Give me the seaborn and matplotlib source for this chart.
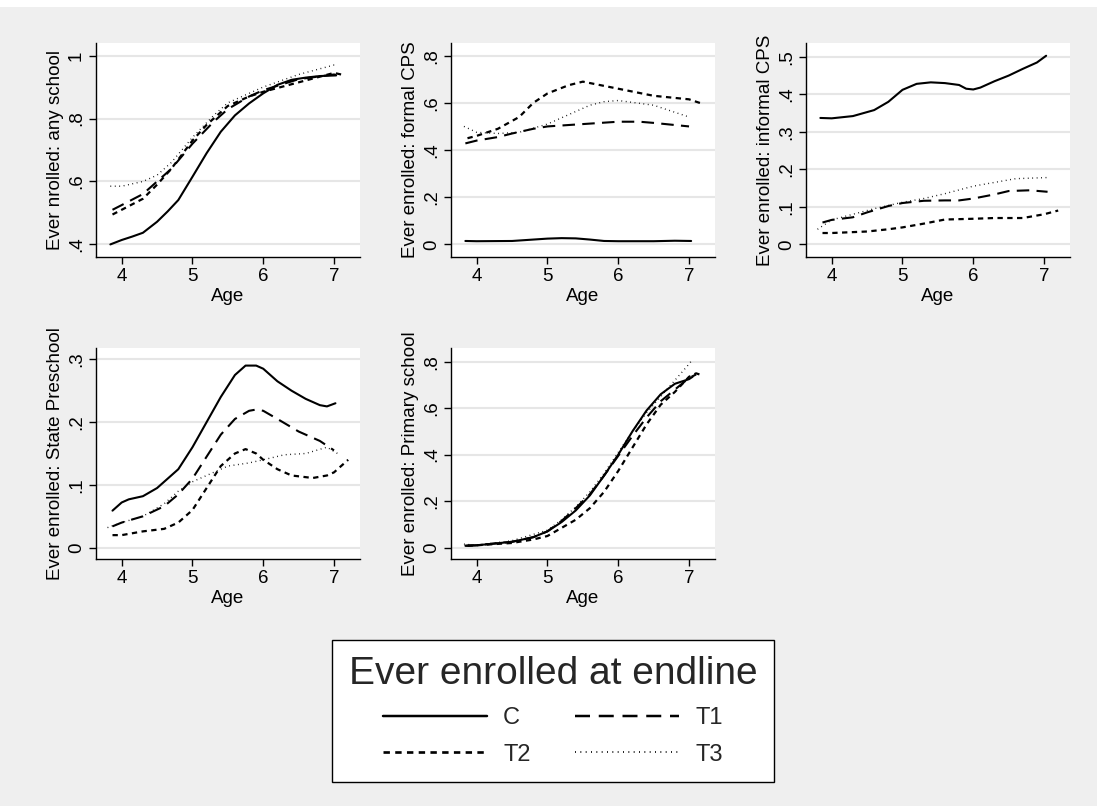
import matplotlib
matplotlib.use("Agg")
import matplotlib.pyplot as plt
from matplotlib.lines import Line2D
from matplotlib.patches import Rectangle
import seaborn as sns
import pandas as pd

GROUPS = ["C", "T1", "T2", "T3"]

# age / value pairs, one dict per outcome
any_school = {
    "C": ([3.84, 4.0, 4.15, 4.3, 4.5, 4.65, 4.8, 5.0, 5.2, 5.4, 5.6, 5.8, 6.0, 6.2, 6.4, 6.6, 6.8, 7.03],
          [0.40, 0.414, 0.425, 0.437, 0.472, 0.505, 0.541, 0.615, 0.69, 0.758, 0.81, 0.848, 0.88, 0.907, 0.923, 0.93, 0.935, 0.937]),
    "T1": ([3.87, 4.0, 4.3, 4.5, 4.7, 5.0, 5.3, 5.5, 5.8, 6.0, 6.5, 7.0, 7.1],
           [0.51, 0.525, 0.56, 0.60, 0.64, 0.72, 0.79, 0.83, 0.87, 0.89, 0.925, 0.94, 0.935]),
    "T2": ([3.87, 4.0, 4.3, 4.5, 4.7, 5.0, 5.2, 5.5, 5.8, 6.0, 6.5, 7.0, 7.1],
           [0.495, 0.51, 0.545, 0.59, 0.64, 0.73, 0.78, 0.84, 0.87, 0.885, 0.915, 0.945, 0.94]),
    "T3": ([3.84, 4.0, 4.3, 4.5, 4.7, 5.0, 5.3, 5.5, 5.8, 6.0, 6.5, 7.0, 7.05],
           [0.585, 0.585, 0.60, 0.62, 0.66, 0.74, 0.81, 0.85, 0.88, 0.90, 0.94, 0.97, 0.97]),
}

formal_cps = {
    "C": ([3.84, 4.0, 4.5, 4.8, 5.0, 5.2, 5.4, 5.6, 5.8, 6.0, 6.5, 6.8, 7.03],
          [0.014, 0.013, 0.014, 0.02, 0.024, 0.026, 0.025, 0.02, 0.014, 0.013, 0.013, 0.015, 0.014]),
    "T1": ([3.84, 4.0, 4.3, 4.5, 4.8, 5.0, 5.5, 6.0, 6.3, 6.5, 7.0],
           [0.428, 0.44, 0.455, 0.47, 0.49, 0.50, 0.51, 0.52, 0.52, 0.515, 0.50]),
    "T2": ([3.87, 4.0, 4.3, 4.6, 4.8, 5.0, 5.3, 5.5, 6.0, 6.5, 7.0, 7.2],
           [0.45, 0.46, 0.49, 0.54, 0.60, 0.64, 0.675, 0.69, 0.66, 0.63, 0.615, 0.595]),
    "T3": ([3.82, 4.0, 4.3, 4.6, 5.0, 5.3, 5.6, 5.8, 6.0, 6.5, 7.0],
           [0.50, 0.475, 0.47, 0.475, 0.51, 0.55, 0.59, 0.605, 0.61, 0.59, 0.54]),
}

informal_cps = {
    "C": ([3.84, 4.0, 4.3, 4.6, 4.8, 5.0, 5.2, 5.4, 5.6, 5.8, 5.9, 6.0, 6.1, 6.3, 6.5, 6.7, 6.9, 7.03],
          [0.337, 0.336, 0.342, 0.358, 0.38, 0.412, 0.428, 0.432, 0.43, 0.425, 0.415, 0.413, 0.418, 0.435, 0.45, 0.468, 0.485, 0.503]),
    "T1": ([3.87, 4.0, 4.3, 4.5, 4.8, 5.0, 5.3, 5.6, 5.8, 6.0, 6.3, 6.5, 6.8, 7.05],
           [0.058, 0.065, 0.072, 0.085, 0.102, 0.11, 0.116, 0.117, 0.117, 0.122, 0.133, 0.142, 0.144, 0.14]),
    "T2": ([3.87, 4.0, 4.5, 4.8, 5.0, 5.3, 5.6, 6.0, 6.3, 6.7, 7.0, 7.2],
           [0.03, 0.03, 0.034, 0.04, 0.045, 0.055, 0.066, 0.068, 0.07, 0.07, 0.08, 0.09]),
    "T3": ([3.8, 4.0, 4.3, 4.6, 5.0, 5.3, 5.6, 6.0, 6.3, 6.6, 7.05],
           [0.04, 0.065, 0.08, 0.095, 0.112, 0.122, 0.135, 0.155, 0.165, 0.175, 0.178]),
}

state_preschool = {
    "C": ([3.87, 4.0, 4.1, 4.3, 4.5, 4.7, 4.8, 5.0, 5.2, 5.4, 5.6, 5.75, 5.9, 6.0, 6.2, 6.4, 6.6, 6.8, 6.9, 7.02],
          [0.059, 0.072, 0.077, 0.082, 0.095, 0.115, 0.125, 0.16, 0.20, 0.24, 0.275, 0.29, 0.29, 0.285, 0.265, 0.25, 0.237, 0.227, 0.225, 0.23]),
    "T1": ([3.87, 4.0, 4.3, 4.6, 4.8, 5.0, 5.2, 5.4, 5.6, 5.8, 5.9, 6.0, 6.2, 6.5, 6.8, 7.0],
           [0.034, 0.04, 0.05, 0.066, 0.085, 0.11, 0.145, 0.18, 0.205, 0.218, 0.22, 0.218, 0.205, 0.185, 0.17, 0.155]),
    "T2": ([3.87, 4.0, 4.3, 4.6, 4.8, 5.0, 5.2, 5.4, 5.6, 5.75, 5.9, 6.0, 6.2, 6.4, 6.7, 6.9, 7.0, 7.2],
           [0.02, 0.02, 0.026, 0.03, 0.04, 0.06, 0.095, 0.13, 0.15, 0.157, 0.15, 0.14, 0.125, 0.115, 0.111, 0.115, 0.12, 0.14]),
    "T3": ([3.8, 4.0, 4.3, 4.6, 4.8, 5.0, 5.3, 5.5, 5.8, 6.0, 6.3, 6.6, 6.9, 7.05],
           [0.032, 0.04, 0.05, 0.07, 0.09, 0.105, 0.12, 0.13, 0.135, 0.14, 0.148, 0.15, 0.16, 0.15]),
}

primary_school = {
    "C": ([3.84, 4.0, 4.5, 4.8, 5.0, 5.2, 5.4, 5.6, 5.8, 6.0, 6.2, 6.4, 6.6, 6.8, 7.0, 7.05],
          [0.008, 0.01, 0.025, 0.045, 0.07, 0.11, 0.16, 0.225, 0.31, 0.40, 0.50, 0.59, 0.66, 0.705, 0.725, 0.735]),
    "T1": ([3.84, 4.0, 4.5, 4.8, 5.0, 5.2, 5.4, 5.6, 5.8, 6.0, 6.2, 6.4, 6.6, 6.8, 7.0, 7.1],
           [0.008, 0.01, 0.025, 0.045, 0.07, 0.115, 0.17, 0.23, 0.31, 0.395, 0.48, 0.56, 0.63, 0.68, 0.73, 0.745]),
    "T2": ([3.87, 4.0, 4.5, 4.8, 5.0, 5.2, 5.4, 5.6, 5.8, 6.0, 6.2, 6.4, 6.6, 6.8, 7.0, 7.1, 7.2],
           [0.008, 0.01, 0.02, 0.035, 0.05, 0.085, 0.12, 0.17, 0.24, 0.33, 0.43, 0.53, 0.615, 0.67, 0.735, 0.75, 0.74]),
    "T3": ([3.82, 4.0, 4.5, 5.0, 5.2, 5.4, 5.6, 5.8, 6.0, 6.2, 6.4, 6.6, 6.8, 7.0, 7.05],
           [0.015, 0.01, 0.03, 0.075, 0.12, 0.175, 0.24, 0.32, 0.41, 0.50, 0.58, 0.65, 0.72, 0.79, 0.81]),
}

panels = [
    (any_school, "Ever nrolled: any school", [0.4, 0.6, 0.8, 1.0], [".4", ".6", ".8", "1"], (0.36, 1.04)),
    (formal_cps, "Ever enrolled: formal CPS", [0, 0.2, 0.4, 0.6, 0.8], ["0", ".2", ".4", ".6", ".8"], (-0.054, 0.854)),
    (informal_cps, "Ever enrolled: informal CPS", [0, 0.1, 0.2, 0.3, 0.4, 0.5], ["0", ".1", ".2", ".3", ".4", ".5"], (-0.034, 0.537)),
    (state_preschool, "Ever enrolled: State Preschool", [0, 0.1, 0.2, 0.3], ["0", ".1", ".2", ".3"], (-0.018, 0.318)),
    (primary_school, "Ever enrolled: Primary school", [0, 0.2, 0.4, 0.6, 0.8], ["0", ".2", ".4", ".6", ".8"], (-0.049, 0.859)),
]

DASHES = {"C": "", "T1": (6, 3.5), "T2": (2.4, 2), "T3": (0.6, 2.6)}
WIDTHS = {"C": 1.5, "T1": 1.5, "T2": 1.6, "T3": 1.0}

sns.set_theme(style="white")
plt.rcParams["font.family"] = ["Liberation Sans", "DejaVu Sans"]

W, H = 1097, 806
fig = plt.figure(figsize=(W / 100, H / 100), dpi=100, facecolor="#efefef")
fig.patches.append(Rectangle((0, 1 - 7 / H), 1, 7 / H, transform=fig.transFigure,
                             facecolor="white", edgecolor="none", zorder=0))

# left, right, top, bottom in pixels
boxes = [(96, 360, 43, 257), (451, 715, 43, 257), (806, 1070, 43, 257),
         (96, 360, 348, 559), (451, 715, 348, 559)]

for (data, ylabel, yticks, ylabels, ylim), (l, r, t, b) in zip(panels, boxes):
    ax = fig.add_axes([l / W, 1 - b / H, (r - l) / W, (b - t) / H])
    ax.set_facecolor("white")
    rows = []
    for g in GROUPS:
        ages, vals = data[g]
        for a, v in zip(ages, vals):
            rows.append({"age": a, "value": v, "group": g})
    df = pd.DataFrame(rows)
    sns.lineplot(data=df, x="age", y="value", style="group", style_order=GROUPS,
                 dashes=DASHES, color="black", estimator=None, sort=False,
                 legend=False, ax=ax)
    for line, g in zip(ax.lines, GROUPS):
        line.set_linewidth(WIDTHS[g])
    ax.set_xlim(3.637, 7.367)
    ax.set_ylim(*ylim)
    ax.set_xticks([4, 5, 6, 7])
    ax.set_yticks(yticks)
    ax.set_yticklabels(ylabels, rotation=90, va="center")
    ax.yaxis.grid(True, color="#e6e6e6", lw=1.5)
    ax.set_axisbelow(True)
    for s in ["top", "right"]:
        ax.spines[s].set_visible(False)
    for s in ["left", "bottom"]:
        ax.spines[s].set_color("black")
        ax.spines[s].set_linewidth(1.0)
    ax.tick_params(axis="both", direction="out", length=5, width=1.0, color="black",
                   labelsize=13.5, labelcolor="black", left=True, bottom=True, pad=3)
    ax.set_xlabel("Age", fontsize=13.5, color="black", labelpad=2)
    ax.set_ylabel(ylabel, fontsize=13.5, color="black", labelpad=3)

# legend fills column-first, so order as C, T2, T1, T3 to get rows C/T1 and T2/T3
leg_order = ["C", "T2", "T1", "T3"]
handles = []
for g in leg_order:
    h = Line2D([], [], color="black", lw=WIDTHS[g] * 1.2)
    if DASHES[g]:
        h.set_dashes(DASHES[g])
    handles.append(h)
leg = fig.legend(handles, leg_order, title="Ever enrolled at endline", ncol=2,
                 loc="center", bbox_to_anchor=(553 / W, 1 - 711 / H),
                 fontsize=17, title_fontsize=28, handlelength=4.4,
                 handletextpad=0.7, columnspacing=1.9, labelspacing=0.62,
                 borderpad=0.7, fancybox=False, framealpha=1, edgecolor="black",
                 facecolor="white")
leg.get_frame().set_linewidth(1.0)

fig.savefig("out.png", dpi=100, facecolor=fig.get_facecolor())
